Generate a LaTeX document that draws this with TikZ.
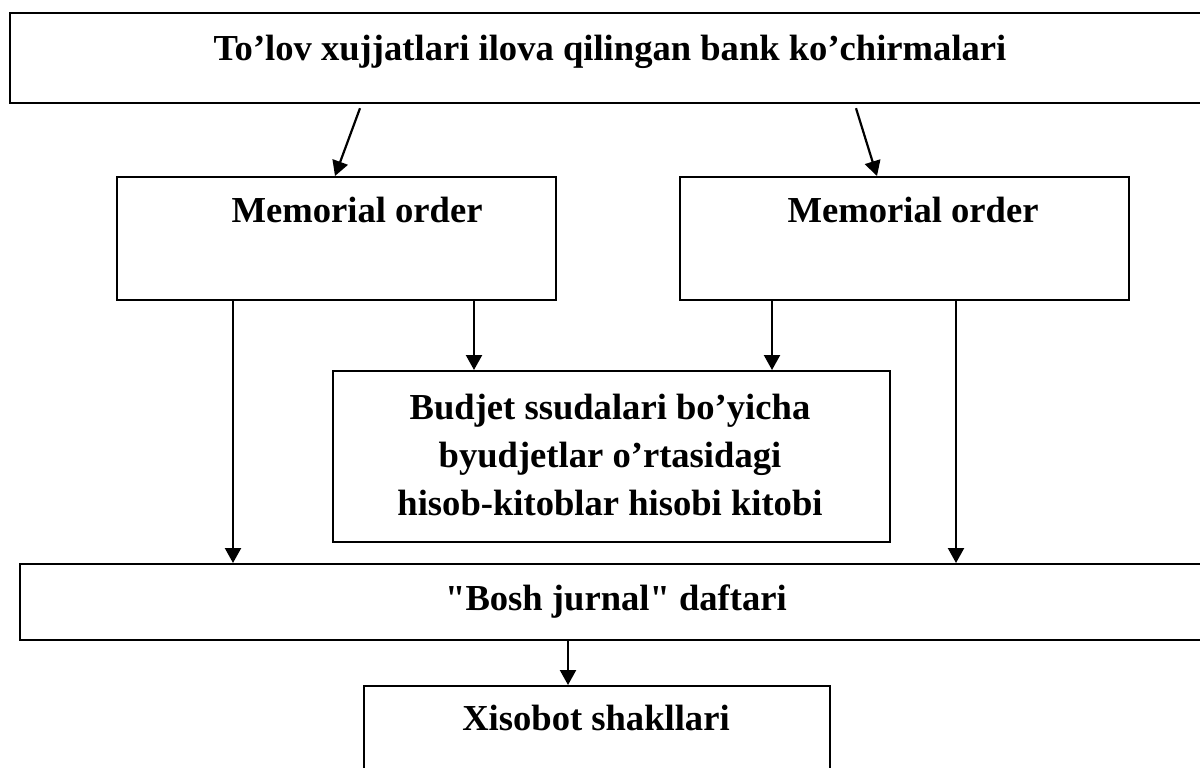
\documentclass[tikz,border=0pt]{standalone}
\usepackage{fontspec}
% family without TeX ligature mapping, so that " stays a straight quote
\newfontfamily\lblfont{Liberation Serif}
\usetikzlibrary{arrows.meta,calc}

\begin{document}
\begin{tikzpicture}[x=0.5pt,y=-0.5pt,
  box/.style={draw,line width=1.1pt,rectangle,inner sep=0pt,anchor=north west},
  lbl/.style={inner sep=0pt,font=\lblfont\bfseries\fontsize{18.3}{24}\selectfont},
  arr/.style={line width=1.1pt,-{Triangle[length=7.5pt,width=8pt]}}]
  \useasboundingbox (0,0) rectangle (1200,767);
  \clip (0,0) rectangle (1200,767);

  % boxes
  \node[box,minimum width=603pt,minimum height=45pt] (top) at (9,12) {};
  \node[box,minimum width=219.5pt,minimum height=61.5pt] (m1) at (116,176) {};
  \node[box,minimum width=224.5pt,minimum height=61.5pt] (m2) at (679,176) {};
  \node[box,minimum width=278.5pt,minimum height=85.5pt] (bud) at (332,370) {};
  \node[box,minimum width=600pt,minimum height=38pt] (bosh) at (19,563) {};
  \node[box,minimum width=233pt,minimum height=50pt] (xis) at (363,685) {};

  % texts
  \node[lbl,anchor=base] (toptxt) at (610,60) {To’lov xujjatlari ilova qilingan bank ko’chirmalari};
  \node[lbl,anchor=base] (m1txt) at (357,222) {Memorial order};
  \node[lbl,anchor=base] (m2txt) at (913,222) {Memorial order};
  \node[lbl,align=center] (budtxt) at (610,455) {Budjet ssudalari bo’yicha\\byudjetlar o’rtasidagi\\hisob-kitoblar hisobi kitobi};
  \node[lbl,anchor=base] (boshtxt) at (616,610) {"Bosh jurnal" daftari};
  \node[lbl,anchor=base] (xistxt) at (596,730) {Xisobot shakllari};

  % connectors
  \draw[arr] ($(top.south -| 360,0)+(0,4)$) -- (m1.north -| 335,0);
  \draw[arr] ($(top.south -| 856,0)+(0,4)$) -- (m2.north -| 877,0);
  \draw[arr] (m1.south -| 233,0) -- (bosh.north -| 233,0);
  \draw[arr] (m1.south -| 474,0) -- (bud.north -| 474,0);
  \draw[arr] (m2.south -| 772,0) -- (bud.north -| 772,0);
  \draw[arr] (m2.south -| 956,0) -- (bosh.north -| 956,0);
  \draw[arr] (bosh.south -| 568,0) -- (xis.north -| 568,0);
\end{tikzpicture}
\end{document}
